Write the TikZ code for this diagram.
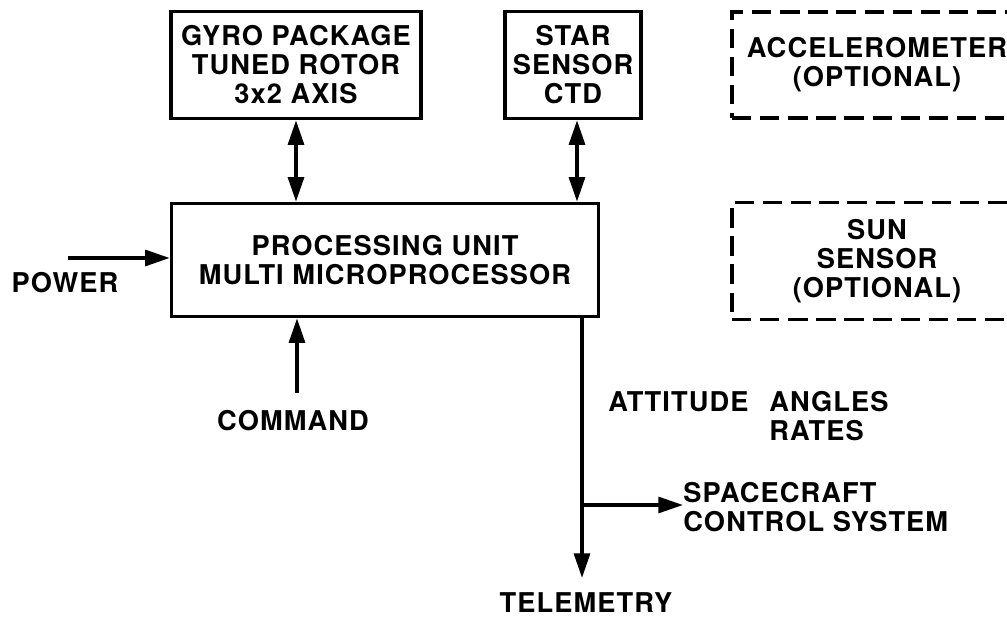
\documentclass[tikz,border=0pt]{standalone}
\usepackage{fontspec}
\setmainfont{TeX Gyre Heros}[LetterSpace=4]
\usetikzlibrary{arrows.meta, positioning}

\begin{document}
\begin{tikzpicture}[
			x=0.02cm, y=-0.02cm,
			font=\fontsize{15.5}{16.5}\selectfont\bfseries,
			unit/.style={rectangle, draw=black, line width=2pt, inner sep=0pt, align=center},
			option/.style={rectangle, draw=black, line width=2pt, dash pattern=on 11pt off 5pt, inner sep=0pt, align=center},
			txt/.style={inner sep=0pt, align=center},
			arrow/.style={-{Triangle[length=14pt,width=9pt]}, line width=2pt},
			dblarrow/.style={{Triangle[length=14pt,width=9pt]}-{Triangle[length=14pt,width=9pt]}, line width=2pt}
			]
			\useasboundingbox (0,0) rectangle (1007,617);
			
			% --- Sensor units ---
			\node[unit, minimum width=250*0.02cm, minimum height=107*0.02cm] (gyro) at (296, 65) {GYRO PACKAGE\\TUNED ROTOR\\3x2 AXIS};
			\node[unit, minimum width=136*0.02cm, minimum height=107*0.02cm] (star) at (573, 65) {STAR\\SENSOR\\CTD};
			\node[option, minimum width=290*0.02cm, minimum height=106*0.02cm] (accel) at (877, 65) {ACCELEROMETER\\(OPTIONAL)};
			\node[option, minimum width=290*0.02cm, minimum height=117*0.02cm] (sun) at (877, 261) {SUN\\SENSOR\\(OPTIONAL)};
			
			% --- Processing unit ---
			\node[unit, minimum width=427*0.02cm, minimum height=113*0.02cm] (proc) at (385, 260) {PROCESSING UNIT\\MULTI MICROPROCESSOR};
			
			% --- Inputs and outputs ---
			\node[txt] (power) at (65, 283) {POWER};
			\node[txt] (command) at (293, 421) {COMMAND};
			\node[txt] (telemetry) at (586, 603) {TELEMETRY};
			\node[txt, anchor=west] (attitude) at (608, 402) {ATTITUDE};
			\node[txt, anchor=west, align=left] (angles) at (769, 416) {ANGLES\\RATES};
			\node[txt, anchor=west, align=left] (control) at (683, 507) {SPACECRAFT\\CONTROL SYSTEM};
			
			\coordinate (pw) at (68, 258);
			\coordinate (cmd) at (297, 393);
			\coordinate (tel_top) at (582, 317);
			\coordinate (tel_end) at (582, 578);
			\coordinate (branch) at (582, 505);
			
			% --- Connectors ---
			\draw[dblarrow] (gyro.south) -- (gyro.south |- proc.north);
			\draw[dblarrow] (star.south -| 577, 0) -- (proc.north -| 577, 0);
			\draw[arrow] (pw) -- (pw -| proc.west);
			\draw[arrow] (cmd) -- (cmd |- proc.south);
			\draw[arrow] (tel_top) -- (tel_end);
			\draw[arrow] (branch) -- (branch -| control.west);
			
			\end{tikzpicture}
\end{document}
